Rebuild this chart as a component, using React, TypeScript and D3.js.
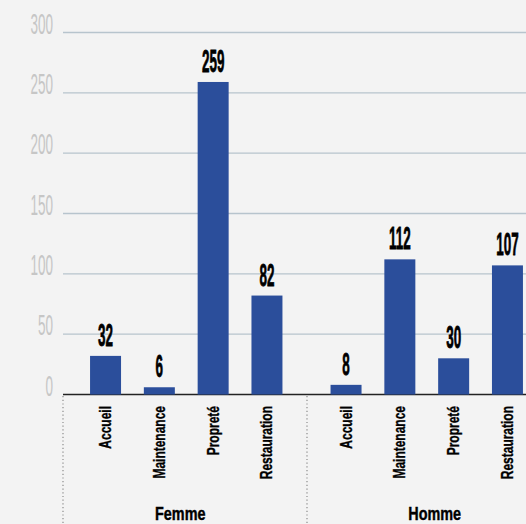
import React from "react";
import * as d3 from "d3";

const groups = ["Femme", "Homme"];
const categories = ["Accueil", "Maintenance", "Propreté", "Restauration"];
const femmeValues = [32, 6, 259, 82];
const hommeValues = [8, 112, 30, 107];
const yTicks = [0, 50, 100, 150, 200, 250, 300];

const W = 526;
const H = 524;
const COND = "'Liberation Sans', Arial, sans-serif";

export default function App() {
  const seriesByGroup: Record<string, number[]> = { Femme: femmeValues, Homme: hommeValues };
  const y = d3.scaleLinear().domain([0, 300]).range([394.5, 32.5]);
  const gx = d3.scaleBand<string>().domain(groups).range([66, 547]).padding(0);
  const ix = d3.scaleBand<string>().domain(categories).range([0, gx.bandwidth()]).paddingInner(0.424).paddingOuter(0.447);
  const labelDx = [-6, 8];
  const plotLeft = 63;

  return (
    <div style={{ position: "fixed", left: 0, top: 0 }}>
      <svg width={W} height={H} style={{ display: "block", background: "#f3f3f3" }}>
        <rect x={0} y={0} width={W} height={H} fill="#f3f3f3" />
        {yTicks.map((t) => (
          <g key={t}>
            {t > 0 && (
              <line x1={plotLeft} x2={W} y1={y(t)} y2={y(t)} stroke="#b7c4cd" strokeWidth={1.3} />
            )}
            <text
              transform={`translate(53,${y(t) + 1}) scale(0.45,1)`}
              textAnchor="end"
              fontFamily={COND}
              fontSize={30}
              fill="#c6c6c6"
            >
              {t}
            </text>
          </g>
        ))}
        {[plotLeft, gx("Homme")! + 0.5].map((x, i) => (
          <line key={i} x1={x} x2={x} y1={396} y2={H} stroke="#9a9a9a" strokeWidth={1.4} strokeDasharray="1.2,2.5" />
        ))}
        <line x1={plotLeft} x2={W} y1={y(0)} y2={y(0)} stroke="#222" strokeWidth={1.3} />
        {groups.map((g, gi) => {
          const gx0 = gx(g)!;
          const vals = seriesByGroup[g];
          return (
            <g key={g}>
              {categories.map((c, ci) => {
                const bx = gx0 + ix(c)!;
                const cx = bx + ix.bandwidth() / 2;
                const v = vals[ci];
                return (
                  <g key={c}>
                    <rect x={bx} y={y(v)} width={ix.bandwidth()} height={y(0) - y(v)} fill="#2b4e9b" />
                    <text
                      transform={`translate(${cx},${y(v) - 10}) scale(0.42,1)`}
                      textAnchor="middle"
                      fontFamily={COND}
                      fontWeight="bold"
                      fontSize={32}
                      fill="#000"
                      stroke="#000"
                      strokeWidth={0.8}
                    >
                      {v}
                    </text>
                    <text
                      transform={`translate(${cx + 5.5},406) rotate(-90) scale(0.75,1)`}
                      textAnchor="end"
                      fontFamily={COND}
                      fontWeight="bold"
                      fontSize={16}
                      fill="#000"
                      stroke="#000"
                      strokeWidth={0.35}
                    >
                      {c}
                    </text>
                  </g>
                );
              })}
              <text
                transform={`translate(${gx0 + gx.bandwidth() / 2 + labelDx[gi]},520) scale(0.8,1)`}
                textAnchor="middle"
                fontFamily={COND}
                fontWeight="bold"
                fontSize={18}
                fill="#000"
                stroke="#000"
                strokeWidth={0.4}
              >
                {g}
              </text>
            </g>
          );
        })}
      </svg>
    </div>
  );
}
